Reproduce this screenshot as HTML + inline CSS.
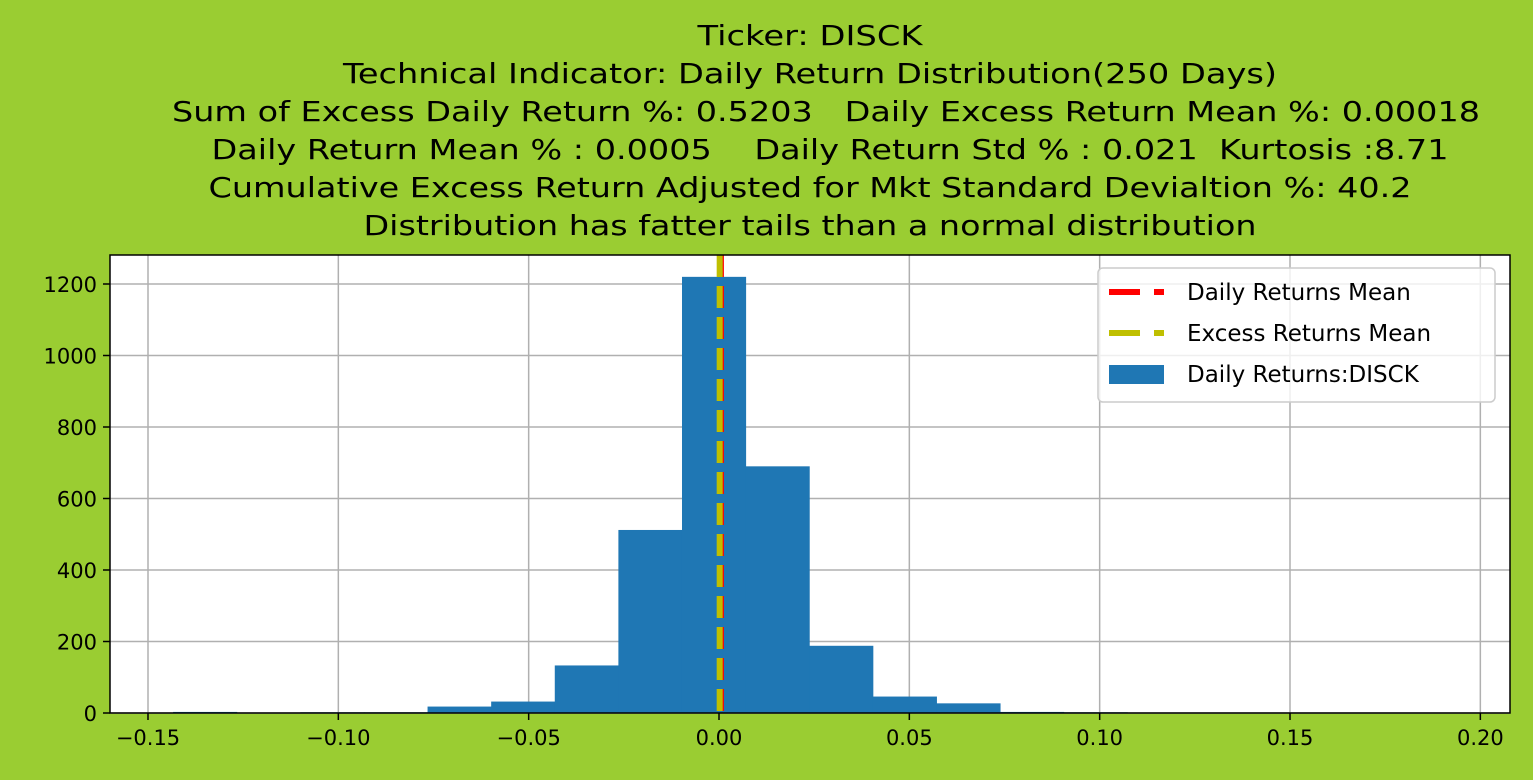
<!DOCTYPE html>
<html><head><meta charset="utf-8"><style>
html,body{margin:0;padding:0;background:#9acd32;}
svg{display:block;font-family:"DejaVu Sans","Liberation Sans",sans-serif;}
text{white-space:pre;}
</style></head><body>
<svg id="chart" width="1533" height="780" viewBox="0 0 1533 780" xmlns="http://www.w3.org/2000/svg" xml:space="preserve">
<rect x="0" y="0" width="1533" height="780" fill="#9acd32"/>
<g id="title" font-size="28" fill="#000" text-anchor="middle">
<text x="810" y="45" textLength="225" lengthAdjust="spacingAndGlyphs">Ticker: DISCK</text>
<text x="810" y="83" textLength="934" lengthAdjust="spacingAndGlyphs">Technical Indicator: Daily Return Distribution(250 Days)</text>
<text x="826" y="121" textLength="1308" lengthAdjust="spacingAndGlyphs">Sum of Excess Daily Return %: 0.5203   Daily Excess Return Mean %: 0.00018</text>
<text x="830" y="159" textLength="1237" lengthAdjust="spacingAndGlyphs">Daily Return Mean % : 0.0005    Daily Return Std % : 0.021  Kurtosis :8.71</text>
<text x="810" y="197" textLength="1203" lengthAdjust="spacingAndGlyphs">Cumulative Excess Return Adjusted for Mkt Standard Devialtion %: 40.2</text>
<text x="810" y="235" textLength="893" lengthAdjust="spacingAndGlyphs">Distribution has fatter tails than a normal distribution</text>
</g>
<rect x="110" y="255" width="1400" height="458" fill="#fff"/>
<g id="grid"></g>
<g id="bars"></g>
<g id="lines"></g>
<rect x="110" y="255" width="1400" height="458" fill="none" stroke="#000" stroke-width="1.5"/>
<g id="xticks"></g>
<g id="yticks"></g>
<g id="legend">
<rect x="1098" y="268" width="397" height="134" rx="5" fill="#fff" fill-opacity="0.8" stroke="#ccc" stroke-width="1.5"/>
<g>
<line x1="1109" y1="292" x2="1164" y2="292" stroke="#ff0000" stroke-width="6" stroke-dasharray="31,14"/>
<text x="1187" y="300" font-size="23">Daily Returns Mean</text></g>
<g>
<line x1="1109" y1="333" x2="1164" y2="333" stroke="#bfbf00" stroke-width="6" stroke-dasharray="31,14"/>
<text x="1187" y="341" font-size="23">Excess Returns Mean</text></g>
<g>
<rect x="1109" y="365" width="55" height="19" fill="#1f77b4"/>
<text x="1187" y="382" font-size="23">Daily Returns:DISCK</text></g>
</g>
</svg>
<script>
const binStart = -0.1434;
const binWidth = 0.01671;
const counts = [3, 0, 2, 2, 18, 32, 133, 512, 1220, 690, 188, 46, 27, 3, 2, 0, 0, 0, 0, 0];
const xTicks = [-0.15, -0.10, -0.05, 0.00, 0.05, 0.10, 0.15, 0.20];
const xTickLabels = ["\u22120.15", "\u22120.10", "\u22120.05", "0.00", "0.05", "0.10", "0.15", "0.20"];
const yTicks = [0, 200, 400, 600, 800, 1000, 1200];
const dailyMean = 0.0005;
const excessMean = 0.00018;

const NS = "http://www.w3.org/2000/svg";
const X = v => 719 + v * 3806.7;
const Y = v => 713 - v * (429 / 1200);
function mk(tag, attrs, parent) {
  const e = document.createElementNS(NS, tag);
  for (const k in attrs) e.setAttribute(k, attrs[k]);
  document.getElementById(parent).appendChild(e);
  return e;
}
xTicks.forEach((t, i) => {
  const g = mk("line", {x1: X(t), x2: X(t), y1: 255, y2: 713, stroke: "#b0b0b0", "stroke-width": 1.5}, "grid");
  
  
  const tk = mk("line", {x1: X(t), x2: X(t), y1: 713, y2: 720, stroke: "#000", "stroke-width": 1.5}, "xticks");
  
  
  const tx = mk("text", {x: X(t), y: 745, "font-size": 21, "text-anchor": "middle"}, "xticks");
  tx.textContent = xTickLabels[i];
  
  
});
yTicks.forEach(t => {
  const g = mk("line", {x1: 110, x2: 1510, y1: Y(t), y2: Y(t), stroke: "#b0b0b0", "stroke-width": 1.5}, "grid");
  
  
  const tk = mk("line", {x1: 103, x2: 110, y1: Y(t), y2: Y(t), stroke: "#000", "stroke-width": 1.5}, "yticks");
  
  
  const tx = mk("text", {x: 97, y: Y(t) + 8, "font-size": 21, "text-anchor": "end"}, "yticks");
  tx.textContent = String(t);
  
  
});
counts.forEach((c, i) => {
  const x0 = X(binStart + i * binWidth), x1 = X(binStart + (i + 1) * binWidth);
  const b = mk("rect", {x: x0, y: Y(c), width: x1 - x0 + 0.5, height: Y(0) - Y(c), fill: "#1f77b4"}, "bars");
  
  
});
const l1 = mk("line", {x1: X(dailyMean), x2: X(dailyMean), y1: 255, y2: 713, stroke: "#ff0000", "stroke-width": 6, "stroke-dasharray": "22,9"}, "lines");


const l2 = mk("line", {x1: X(excessMean), x2: X(excessMean), y1: 255, y2: 713, stroke: "#bfbf00", "stroke-width": 6, "stroke-dasharray": "22,9"}, "lines");


</script>
</body></html>
